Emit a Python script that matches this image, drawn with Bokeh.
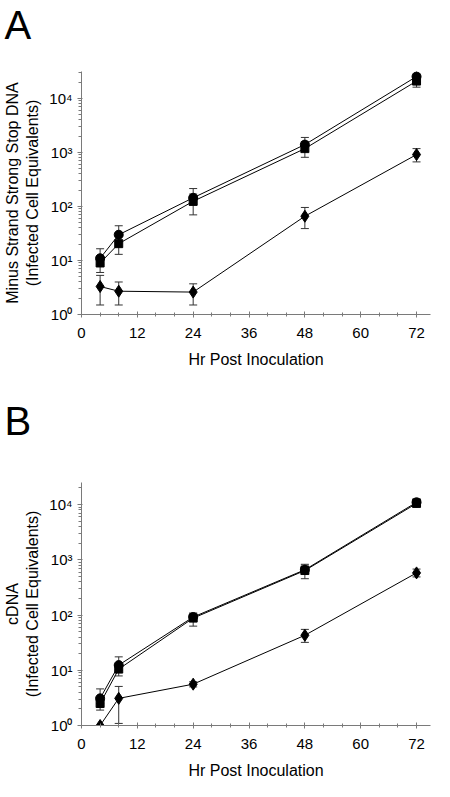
from bokeh.plotting import figure
from bokeh.layouts import column
from bokeh.models import (ColumnDataSource, Whisker, TeeHead, FixedTicker,
                          CustomJSTickFormatter, Range1d, Title)
from bokeh.embed import file_html
from bokeh.resources import INLINE

# ---------------- data ----------------
hours = [4, 8, 24, 48, 72]
x_ticks = [0, 12, 24, 36, 48, 60, 72]
x_minor = [4, 8, 16, 20, 28, 32, 40, 44, 52, 56, 64, 68]
y_ticks = [1, 10, 100, 1000, 10000]
panel_letters = ["A", "B"]

# Panel A: minus strand strong stop DNA
a_circle = [11, 30, 145, 1400, 25500]
a_circle_hi = [16.5, 44, 215, 1900, 33000]
a_circle_lo = [8.5, 22, 105, 1050, 20000]
a_square = [9, 20.5, 125, 1180, 21000]
a_square_hi = [12, 28, 170, 1600, 27000]
a_square_lo = [6, 13, 70, 815, 16200]
a_diamond = [3.3, 2.7, 2.6, 66, 915]
a_diamond_hi = [5.3, 4.0, 3.7, 96, 1180]
a_diamond_lo = [1.5, 1.5, 1.5, 39, 670]

# Panel B: cDNA
b_circle = [3.1, 12.4, 92, 660, 11000]
b_circle_hi = [4.6, 17.5, 109, 830, 12800]
b_circle_lo = [2.5, 10, 80, 560, 10000]
b_square = [2.5, 10.5, 88, 640, 10500]
b_square_hi = [3.3, 13, 105, 800, 12000]
b_square_lo = [1.9, 7.9, 63, 455, 9500]
b_diamond = [1.0, 3.1, 5.6, 43, 580]
b_diamond_hi = [1.0, 5.1, 6.2, 55, 680]
b_diamond_lo = [1.0, 1.09, 5.0, 32, 490]

FONT = "Liberation Sans"
AXIS_GRAY = "#7a7a7a"
BORDER_LEFT = 78


def make_panel(letter, spacer_px, ylabel, ytop, series, border_top, border_bottom):
    p = figure(frame_width=349, frame_height=243, y_axis_type="log",
               x_range=Range1d(0, 75), y_range=Range1d(1, ytop),
               output_backend="svg", toolbar_location=None,
               min_border_left=BORDER_LEFT, min_border_right=7,
               min_border_top=border_top, min_border_bottom=border_bottom)
    p.outline_line_color = None
    p.xgrid.visible = False
    p.ygrid.visible = False
    p.background_fill_color = "white"
    p.border_fill_color = "white"

    # blank spacer between frame and the panel letter
    p.add_layout(Title(text=" ", standoff=0, text_font=FONT,
                       text_font_size=f"{spacer_px}px", text_color="white"), "above")
    p.add_layout(Title(text=letter, align="left", offset=-(BORDER_LEFT - 1),
                       standoff=0, text_font=FONT,
                       text_font_size="40px", text_font_style="normal",
                       text_color="black"), "above")

    p.xaxis.ticker = FixedTicker(ticks=x_ticks, minor_ticks=x_minor)
    p.yaxis.ticker = FixedTicker(
        ticks=y_ticks,
        minor_ticks=[m * d for d in [1, 10, 100, 1000, 10000] for m in range(2, 10)])
    p.yaxis.formatter = CustomJSTickFormatter(code="""
        const e = Math.round(Math.log10(tick));
        const sup = ['\u2070','\u00b9','\u00b2','\u00b3','\u2074','\u2075'];
        return '10' + sup[e];
    """)

    for ax in (p.xaxis[0], p.yaxis[0]):
        ax.axis_line_color = AXIS_GRAY
        ax.major_tick_line_color = AXIS_GRAY
        ax.minor_tick_line_color = AXIS_GRAY
        ax.major_label_text_font = FONT
        ax.major_label_text_font_size = "15px"
        ax.major_label_text_color = "black"
        ax.axis_label_text_font = FONT
        ax.axis_label_text_font_size = "16px"
        ax.axis_label_text_font_style = "normal"
        ax.axis_label_text_color = "black"

    p.xaxis.major_tick_in = 3
    p.xaxis.major_tick_out = 3
    p.xaxis.minor_tick_in = 2
    p.xaxis.minor_tick_out = 2
    p.xaxis.major_label_standoff = 10
    p.xaxis.axis_label_standoff = 10
    p.xaxis.axis_label = "Hr Post Inoculation"

    p.yaxis.major_tick_in = 1
    p.yaxis.major_tick_out = 4
    p.yaxis.minor_tick_in = 0
    p.yaxis.minor_tick_out = 3
    p.yaxis.major_label_standoff = 5
    p.yaxis.axis_label_standoff = 5
    p.yaxis.axis_label = ylabel

    for marker, y, hi, lo, size in series:
        src = ColumnDataSource(dict(x=hours, y=y, hi=hi, lo=lo))
        p.add_layout(Whisker(source=src, base="x", upper="hi", lower="lo",
                             line_color="#333333", line_width=1,
                             upper_head=TeeHead(size=8, line_color="#333333", line_width=1),
                             lower_head=TeeHead(size=8, line_color="#333333", line_width=1)))
        p.line("x", "y", source=src, line_color="black", line_width=1)
        p.scatter("x", "y", source=src, marker=marker, size=size,
                  fill_color="black", line_color="black")
    return p


pA = make_panel(panel_letters[0], 21,
                "Minus Strand Strong Stop DNA\n(Infected Cell Equivalents)",
                10 ** 4.5,
                [("square", a_square, a_square_hi, a_square_lo, 8),
                 ("circle", a_circle, a_circle_hi, a_circle_lo, 9),
                 ("diamond", a_diamond, a_diamond_hi, a_diamond_lo, 12)],
                60, 82)

pB = make_panel(panel_letters[1], 34,
                "cDNA\n(Infected Cell Equivalents)",
                10 ** 4.4,
                [("square", b_square, b_square_hi, b_square_lo, 8),
                 ("circle", b_circle, b_circle_hi, b_circle_lo, 9),
                 ("diamond", b_diamond, b_diamond_hi, b_diamond_lo, 12)],
                86, 63)

layout = column(pA, pB, spacing=0)
open("out.html", "w").write(file_html(layout, INLINE))
